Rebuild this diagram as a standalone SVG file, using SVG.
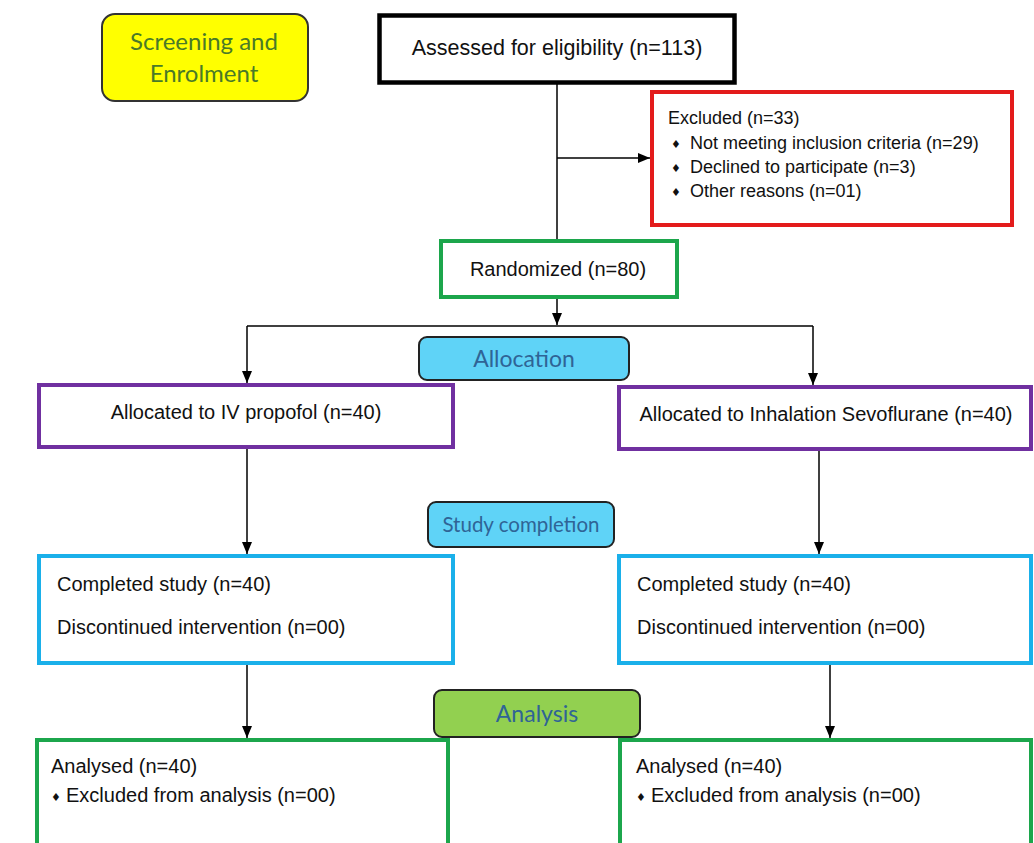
<svg xmlns="http://www.w3.org/2000/svg" width="1034" height="843" viewBox="0 0 1034 843">
<defs>
<marker id="ah" markerUnits="userSpaceOnUse" markerWidth="12" markerHeight="10" refX="12" refY="5" orient="auto">
<path d="M0,0 L12,5 L0,10 z" fill="#000"/>
</marker>
<style>
.t{font-family:"Liberation Sans",Arial,sans-serif;font-size:20px;fill:#111}
.lbl{font-family:Lato,"Open Sans",sans-serif;font-size:23px;fill:#2f6496}
.bul{font-family:"DejaVu Sans",sans-serif;font-size:11px;fill:#111}
.con{stroke:#000;stroke-width:1.5;fill:none}
.box{fill:#fff;stroke-width:4}
.pur{stroke:#7030a0}
.blu{stroke:#1ab0ea}
.grn{stroke:#1ca64c}
.tag{stroke:#222;stroke-width:2}
</style>
</defs>
<rect width="1034" height="843" fill="#fff"/>

<g id="screening">
<rect x="102" y="14" width="206" height="87" rx="13" fill="#ffff00" stroke="#333" stroke-width="2"/>
<text x="204" y="50" text-anchor="middle" style="font-family:Lato,'Open Sans',sans-serif;font-size:24px;fill:#4a7a28">Screening and</text>
<text x="204" y="82" text-anchor="middle" style="font-family:Lato,'Open Sans',sans-serif;font-size:24px;fill:#4a7a28">Enrolment</text>
</g>

<g id="assessed">
<rect x="379.5" y="15.5" width="355" height="67" fill="#fff" stroke="#000" stroke-width="4.5"/>
<text x="557" y="55" text-anchor="middle" class="t" style="font-size:21.5px">Assessed for eligibility (n=113)</text>
</g>

<g id="excluded">
<rect x="652" y="92" width="360" height="133" fill="#fff" stroke="#e31b1b" stroke-width="4"/>
<text x="668" y="124" class="t" style="font-size:18px">Excluded (n=33)</text>
<text x="671" y="148" class="bul">♦</text>
<text x="690" y="149" class="t" style="font-size:18px">Not meeting inclusion criteria (n=29)</text>
<text x="671" y="172" class="bul">♦</text>
<text x="690" y="173" class="t" style="font-size:18px">Declined to participate (n=3)</text>
<text x="671" y="196" class="bul">♦</text>
<text x="690" y="197" class="t" style="font-size:18px">Other reasons (n=01)</text>
</g>

<g id="randomized">
<rect x="441" y="241" width="236" height="56" class="box grn" stroke-width="4.5"/>
<text x="558" y="276" text-anchor="middle" class="t">Randomized (n=80)</text>
</g>

<g id="allocation">
<rect x="419" y="337" width="210" height="43" rx="8" fill="#5fd3f7" class="tag"/>
<text x="524" y="367" text-anchor="middle" class="lbl">Allocation</text>
</g>

<g id="alloc-propofol">
<rect x="39" y="385" width="414" height="62" class="box pur"/>
<text x="246" y="419" text-anchor="middle" class="t">Allocated to IV propofol (n=40)</text>
</g>

<g id="alloc-sevo">
<rect x="619" y="387" width="412" height="62" class="box pur"/>
<text x="826" y="421" text-anchor="middle" class="t">Allocated to Inhalation Sevoflurane (n=40)</text>
</g>

<g id="study-completion">
<rect x="428" y="502" width="186" height="45" rx="8" fill="#5fd3f7" class="tag"/>
<text x="521" y="532" text-anchor="middle" class="lbl" style="font-size:20.5px">Study completion</text>
</g>

<g id="completed-left">
<rect x="39" y="556" width="414" height="107" class="box blu"/>
<text x="57" y="591" class="t">Completed study (n=40)</text>
<text x="57" y="634" class="t">Discontinued intervention (n=00)</text>
</g>

<g id="completed-right">
<rect x="619" y="556" width="412" height="107" class="box blu"/>
<text x="637" y="591" class="t">Completed study (n=40)</text>
<text x="637" y="634" class="t">Discontinued intervention (n=00)</text>
</g>

<g id="analysis">
<rect x="434" y="690" width="206" height="47" rx="8" fill="#92d050" class="tag"/>
<text x="537" y="722" text-anchor="middle" class="lbl">Analysis</text>
</g>

<g id="analysed-left">
<rect x="37" y="740" width="411" height="110" class="box grn"/>
<text x="51" y="773" class="t">Analysed (n=40)</text>
<text x="51" y="801" class="bul">♦</text>
<text x="66" y="802" class="t">Excluded from analysis (n=00)</text>
</g>

<g id="analysed-right">
<rect x="620" y="740" width="411" height="110" class="box grn"/>
<text x="636" y="773" class="t">Analysed (n=40)</text>
<text x="636" y="801" class="bul">♦</text>
<text x="651" y="802" class="t">Excluded from analysis (n=00)</text>
</g>

<g id="connectors">
<line x1="557" y1="84" x2="557" y2="239" class="con"/>
<line x1="557" y1="158" x2="650" y2="158" class="con" marker-end="url(#ah)"/>
<line x1="557" y1="299" x2="557" y2="325" class="con" marker-end="url(#ah)"/>
<line x1="247" y1="326" x2="813" y2="326" class="con"/>
<line x1="247" y1="326" x2="247" y2="383" class="con" marker-end="url(#ah)"/>
<line x1="813" y1="326" x2="813" y2="385" class="con" marker-end="url(#ah)"/>
<line x1="247" y1="449" x2="247" y2="554" class="con" marker-end="url(#ah)"/>
<line x1="819" y1="451" x2="819" y2="554" class="con" marker-end="url(#ah)"/>
<line x1="247" y1="665" x2="247" y2="738" class="con" marker-end="url(#ah)"/>
<line x1="830" y1="665" x2="830" y2="738" class="con" marker-end="url(#ah)"/>
</g>
</svg>
